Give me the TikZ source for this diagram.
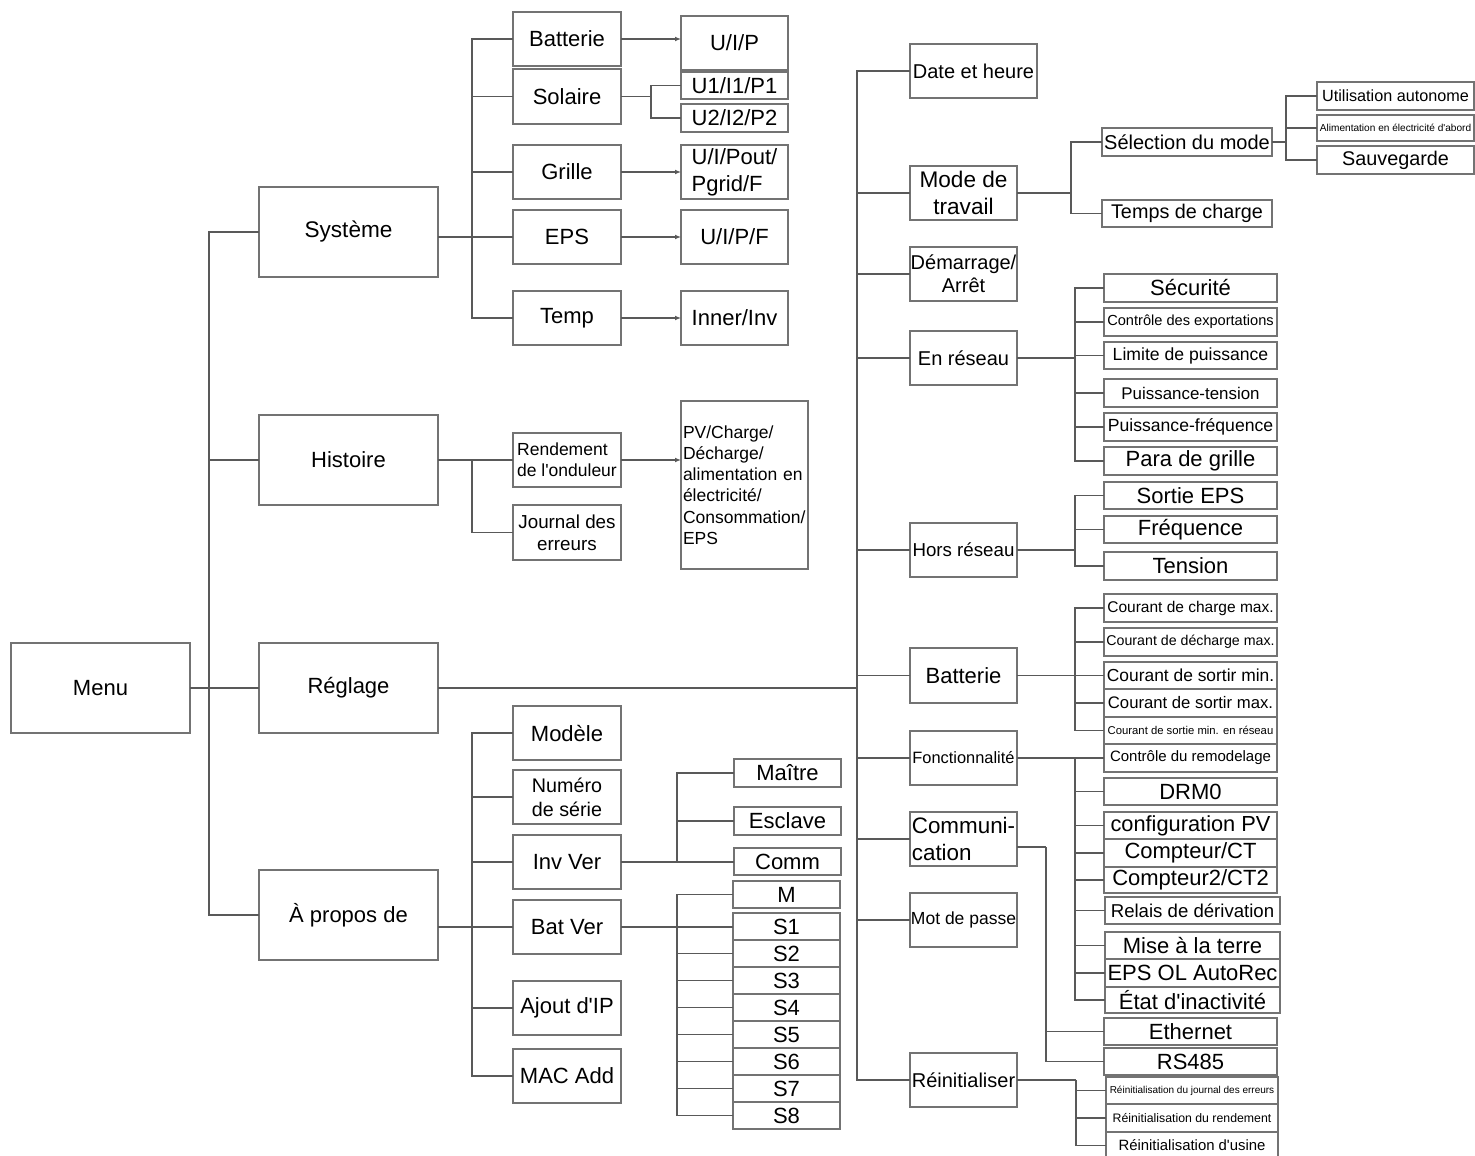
\documentclass[tikz,border=0pt]{standalone}
\usepackage{fontspec}
\setmainfont{Liberation Sans}[Ligatures=TeXOff]
\usetikzlibrary{arrows.meta}
\newcommand{\fz}[2]{\fontsize{#1}{#2}\selectfont}
\newcommand{\bx}[7]{\node[box,minimum width={(#4-#2)*0.5pt},minimum height={(#5-#3)*0.5pt},#6] (#1) at ({(#2+#4)/2},{(#3+#5)/2}) {#7};}
\tikzset{
  box/.style={draw=black!55,line width=0.7pt,inner sep=0pt,outer sep=0pt,align=center,font=\fz{11}{13.5}},
  ln/.style={draw=black!65,line width=0.55pt},
  arr/.style={ln,-{Latex[length=3pt,width=2.4pt]}}
}
\begin{document}
\begin{tikzpicture}[x=0.5pt,y=-0.5pt]
\useasboundingbox (0,0) rectangle (1475,1155);
% level 0/1
\bx{menu}{11}{643}{190}{733}{}{Menu}
\bx{sys}{259}{187}{438}{277}{font=\fz{11.3}{13.5}}{Système}
\bx{hist}{259}{415}{438}{505}{}{Histoire}
\bx{regl}{259}{643}{438}{733}{}{Réglage}
\bx{apro}{259}{870}{438}{960}{}{À propos de}
% Systeme
\bx{sbat}{513}{12}{621}{66}{}{Batterie}
\bx{ssol}{513}{69}{621}{124}{}{Solaire}
\bx{sgri}{513}{145}{621}{199}{}{Grille}
\bx{seps}{513}{210}{621}{264}{}{EPS}
\bx{stmp}{513}{291}{621}{345}{}{Temp}
\bx{uip}{681}{16}{788}{70}{}{U/I/P}
\bx{uone}{681}{72}{788}{99}{}{U1/I1/P1}
\bx{utwo}{681}{104}{788}{132}{}{U2/I2/P2}
\bx{upout}{681}{145}{788}{199}{align=left}{U/I/Pout/\\Pgrid/F}
\bx{uipf}{681}{210}{788}{264}{}{U/I/P/F}
\bx{inner}{681}{291}{788}{345}{}{Inner/Inv}
% Histoire
\bx{rend}{513}{433}{621}{487}{font=\fz{8.75}{10.5},align=left}{Rendement\\de l'onduleur}
\bx{jour}{513}{505}{621}{560}{font=\fz{9.4}{11}}{Journal des\\erreurs}
\bx{pv}{681}{401}{808}{569}{font=\fz{8.75}{10.6},align=left,text width=61.5pt,inner xsep=1pt}{PV/Charge/\\Décharge/\\alimentation en\\électricité/\\Consommation/\\EPS}
% Reglage
\bx{date}{910}{44}{1037}{98}{font=\fz{10}{12}}{Date et heure}
\bx{mode}{910}{166}{1017}{220}{font=\fz{11.3}{13.5}}{Mode de\\travail}
\bx{dem}{910}{247}{1017}{301}{font=\fz{10}{11.5}}{Démarrage/\\Arrêt}
\bx{enr}{910}{331}{1017}{385}{font=\fz{10}{12}}{En réseau}
\bx{hors}{910}{523}{1017}{577}{font=\fz{9.35}{11}}{Hors réseau}
\bx{batt}{910}{648}{1017}{703}{}{Batterie}
\bx{fonc}{910}{731}{1017}{785}{font=\fz{8.2}{10}}{Fonctionnalité}
\bx{comm}{910}{812}{1017}{866}{font=\fz{11.2}{13.5},align=left}{Communi-\\cation}
\bx{mot}{910}{893}{1017}{947}{font=\fz{8.75}{10.5}}{Mot de passe}
\bx{reini}{910}{1053}{1017}{1107}{font=\fz{10}{12}}{Réinitialiser}
% Mode de travail
\bx{sel}{1102}{128}{1272}{156}{font=\fz{10}{12}}{Sélection du mode}
\bx{temps}{1102}{200}{1272}{227}{font=\fz{9.9}{12}}{Temps de charge}
\bx{util}{1317}{82}{1474}{110}{font=\fz{8.1}{10}}{Utilisation autonome}
\bx{alim}{1317}{115}{1474}{141}{font=\fz{5.05}{6}}{Alimentation en électricité d'abord}
\bx{sauv}{1317}{146}{1474}{174}{font=\fz{9.9}{12}}{Sauvegarde}
% En reseau
\bx{secu}{1104}{274}{1277}{302}{}{Sécurité}
\bx{expo}{1104}{308}{1277}{336}{font=\fz{7.3}{9}}{Contrôle des exportations}
\bx{limi}{1104}{342}{1277}{369}{font=\fz{8.8}{10.5}}{Limite de puissance}
\bx{ptens}{1104}{379}{1277}{407}{font=\fz{8.45}{10}}{Puissance-tension}
\bx{pfreq}{1104}{413}{1277}{441}{font=\fz{8.8}{10.5}}{Puissance-fréquence}
\bx{para}{1104}{447}{1277}{475}{}{Para de grille}
% Hors reseau
\bx{sortie}{1104}{482}{1277}{509}{}{Sortie EPS}
\bx{freq}{1104}{516}{1277}{543}{}{Fréquence}
\bx{tens}{1104}{552}{1277}{580}{}{Tension}
% Batterie
\bx{cchg}{1104}{594}{1277}{622}{font=\fz{7.75}{9}}{Courant de charge max.}
\bx{cdch}{1104}{628}{1277}{656}{font=\fz{7.1}{9}}{Courant de décharge max.}
\bx{csmin}{1104}{662}{1277}{689}{font=\fz{8.7}{10}}{Courant de sortir min.}
\bx{csmax}{1104}{689}{1277}{717}{font=\fz{8.35}{10}}{Courant de sortir max.}
\bx{csres}{1104}{717}{1277}{744}{font=\fz{5.65}{7}}{Courant de sortie min. en réseau}
% Fonctionnalite
\bx{remod}{1104}{744}{1277}{772}{font=\fz{7.5}{9}}{Contrôle du remodelage}
\bx{drm}{1104}{778}{1277}{805}{}{DRM0}
\bx{cfgpv}{1104}{812}{1277}{839}{font=\fz{10.9}{13}}{configuration PV}
\bx{cpt}{1104}{839}{1277}{867}{}{Compteur/CT}
\bx{cpttwo}{1104}{867}{1277}{893}{}{Compteur2/CT2}
\bx{relais}{1105}{897}{1280}{924}{font=\fz{9.3}{11}}{Relais de dérivation}
\bx{terre}{1105}{932}{1280}{959}{}{Mise à la terre}
\bx{epsol}{1105}{959}{1280}{987}{}{EPS OL AutoRec}
\bx{etat}{1105}{987}{1280}{1013}{}{État d'inactivité}
% Communication
\bx{eth}{1104}{1018}{1277}{1045}{}{Ethernet}
\bx{rs}{1104}{1048}{1277}{1075}{}{RS485}
% Reinitialiser
\bx{rjour}{1106}{1077}{1278}{1104}{font=\fz{5}{6}}{Réinitialisation du journal des erreurs}
\bx{rrend}{1106}{1104}{1278}{1132}{font=\fz{6.15}{7.5}}{Réinitialisation du rendement}
\bx{rusine}{1106}{1132}{1278}{1159}{font=\fz{7.45}{9}}{Réinitialisation d'usine}
% A propos de
\bx{modele}{513}{706}{621}{760}{}{Modèle}
\bx{numero}{513}{770}{621}{824}{font=\fz{9.85}{12}}{Numéro\\de série}
\bx{inv}{513}{835}{621}{889}{}{Inv Ver}
\bx{batv}{513}{900}{621}{954}{}{Bat Ver}
\bx{ajout}{513}{981}{621}{1035}{}{Ajout d'IP}
\bx{mac}{513}{1049}{621}{1103}{}{MAC Add}
\bx{maitre}{734}{759}{841}{787}{}{Maître}
\bx{escl}{734}{807}{841}{835}{}{Esclave}
\bx{commv}{734}{848}{841}{875}{}{Comm}
\bx{mm}{733}{881}{840}{908}{}{M}
\bx{sa}{733}{913}{840}{940}{}{S1}
\bx{sb}{733}{940}{840}{967}{}{S2}
\bx{sc}{733}{967}{840}{994}{}{S3}
\bx{sd}{733}{994}{840}{1021}{}{S4}
\bx{se}{733}{1021}{840}{1048}{}{S5}
\bx{sf}{733}{1048}{840}{1075}{}{S6}
\bx{sg}{733}{1075}{840}{1102}{}{S7}
\bx{sh}{733}{1102}{840}{1129}{}{S8}

% ---- connectors ----
\draw[ln] (menu.east) -- (regl.west);
\coordinate (bMenu) at (209,688);
\foreach \n in {sys,hist,apro} \draw[ln] (bMenu) |- (\n.west);
% Systeme
\coordinate (bS) at (472,237);
\draw[ln] (sys.east |- seps.west) -- (seps.west);
\foreach \n in {sbat,ssol,sgri,stmp} \draw[ln] (bS) |- (\n.west);
\draw[arr] (sbat.east) -- (sbat.east -| uip.west);
\draw[arr] (sgri.east) -- (sgri.east -| upout.west);
\draw[arr] (seps.east) -- (seps.east -| uipf.west);
\draw[arr] (stmp.east) -- (stmp.east -| inner.west);
\coordinate (bSol) at (651,96.5);
\draw[ln] (ssol.east) -- (bSol);
\draw[ln] (bSol) |- (uone.west);
\draw[ln] (bSol) |- (utwo.west);
% Histoire
\coordinate (bH) at (472,460);
\draw[ln] (hist.east) -- (rend.west);
\draw[ln] (bH) |- (jour.west);
\draw[arr] (rend.east) -- (rend.east -| pv.west);
% Reglage
\coordinate (bR) at (857,688);
\draw[ln] (regl.east) -- (bR);
\foreach \n in {date,mode,dem,enr,hors,batt,fonc,comm,mot,reini} \draw[ln] (bR) |- (\n.west);
% Mode de travail
\coordinate (bM) at (1071,193);
\draw[ln] (mode.east) -- (bM);
\foreach \n in {sel,temps} \draw[ln] (bM) |- (\n.west);
\coordinate (bSel) at (1286,142);
\draw[ln] (sel.east) -- (bSel);
\foreach \n in {util,alim,sauv} \draw[ln] (bSel) |- (\n.west);
% En reseau
\coordinate (bE) at (1075,358);
\draw[ln] (enr.east) -- (bE);
\foreach \n in {secu,expo,limi,ptens,pfreq,para} \draw[ln] (bE) |- (\n.west);
% Hors reseau
\coordinate (bHo) at (1075,550);
\draw[ln] (hors.east) -- (bHo);
\foreach \n in {sortie,freq,tens} \draw[ln] (bHo) |- (\n.west);
% Batterie
\coordinate (bB) at (1075,675.5);
\draw[ln] (batt.east) -- (bB);
\foreach \n in {cchg,cdch,csmin,csmax,csres} \draw[ln] (bB) |- (\n.west);
% Fonctionnalite
\coordinate (bF) at (1075,758);
\draw[ln] (fonc.east) -- (remod.west);
\foreach \n in {drm,cfgpv,cpt,cpttwo,relais,terre,epsol,etat} \draw[ln] (bF) |- (\n.west);
% Communication
\coordinate (bC) at (1046,847);
\draw[ln] ([yshift=-4pt]comm.east) -- (bC);
\foreach \n in {eth,rs} \draw[ln] (bC) |- (\n.west);
% Reinitialiser
\coordinate (bRe) at (1076,1080);
\draw[ln] (reini.east) -- (bRe);
\foreach \n in {rjour,rrend,rusine} \draw[ln] (bRe) |- (\n.west);
% A propos de
\coordinate (bA) at (472,927);
\draw[ln] (apro.east |- batv.west) -- (batv.west);
\foreach \n in {modele,numero,inv,ajout,mac} \draw[ln] (bA) |- (\n.west);
\coordinate (bI) at (677,862);
\draw[ln] (inv.east) -- (inv.east -| commv.west);
\foreach \n in {maitre,escl} \draw[ln] (bI) |- (\n.west);
\coordinate (bBv) at (677,927);
\draw[ln] (batv.east) -- (batv.east -| sa.west);
\foreach \n in {mm,sb,sc,sd,se,sf,sg,sh} \draw[ln] (bBv) |- (\n.west);
\end{tikzpicture}
\end{document}
